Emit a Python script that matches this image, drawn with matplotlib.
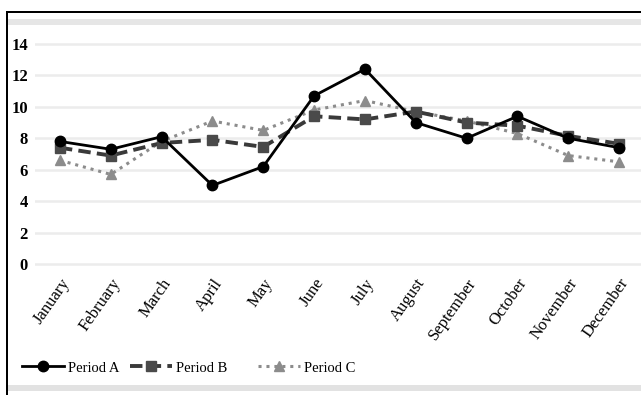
import matplotlib
matplotlib.use("Agg")
import matplotlib.pyplot as plt
from matplotlib.lines import Line2D
from matplotlib.patches import Rectangle

months = ["January", "February", "March", "April", "May", "June", "July",
          "August", "September", "October", "November", "December"]
period_a = [7.8, 7.3, 8.1, 5.0, 6.2, 10.7, 12.4, 9.0, 8.0, 9.4, 8.0, 7.4]
period_b = [7.4, 6.9, 7.7, 7.9, 7.45, 9.4, 9.2, 9.7, 9.0, 8.8, 8.15, 7.65]
period_c = [6.6, 5.7, 7.8, 9.1, 8.5, 9.8, 10.4, 9.7, 9.1, 8.3, 6.9, 6.5]
y_ticks = [0, 2, 4, 6, 8, 10, 12, 14]
series_names = ["Period A", "Period B", "Period C"]

plt.rcParams["font.family"] = ["Liberation Serif", "DejaVu Serif"]

W, H = 641, 395
fig = plt.figure(figsize=(W / 100, H / 100), dpi=100)

# outer frame: dark top and left rules, pale bands top and bottom
fig.add_artist(Rectangle((6 / W, 0), 2 / W, (H - 11) / H, transform=fig.transFigure,
                         color="black", lw=0))
fig.add_artist(Rectangle((6 / W, (H - 13) / H), 1, 2 / H, transform=fig.transFigure,
                         color="black", lw=0))
fig.add_artist(Rectangle((8 / W, (H - 25) / H), 1, 6 / H, transform=fig.transFigure,
                         color="#e6e6e6", lw=0))
fig.add_artist(Rectangle((8 / W, (H - 391) / H), 1, 6 / H, transform=fig.transFigure,
                         color="#e2e2e2", lw=0))

left, right = 35, 641
top, bottom = 35, 270
ax = fig.add_axes([left / W, 1 - bottom / H, (right - left) / W, (bottom - top) / H])

styles = [
    dict(color="black", lw=2.0, ls="-", marker="o", ms=7.5),
    dict(color="#3a3a3a", lw=2.8, ls=(0, (3.2, 1.6)), marker="s", ms=7.5,
         mfc="#4a4a4a", mec="#4a4a4a"),
    dict(color="#8c8c8c", lw=2.2, ls=(0, (1, 1.6)), marker="^", ms=7.5),
]

x = list(range(len(months)))
ax.plot(x, period_c, zorder=2, **styles[2])
ax.plot(x, period_b, zorder=3, **styles[1])
ax.plot(x, period_a, zorder=4, **styles[0])

ax.set_xlim(-0.49, 11.43)
ax.set_ylim(-0.38, 14.57)
ax.set_yticks(y_ticks)
ax.set_yticklabels([str(v) for v in y_ticks], fontsize=12, fontweight="bold")
ax.set_xticks(x)
ax.set_xticklabels(months, fontsize=12, rotation=55, ha="right",
                   rotation_mode="anchor")
ax.tick_params(axis="both", length=0)
ax.tick_params(axis="y", pad=5)
ax.tick_params(axis="x", pad=4)
ax.grid(axis="y", color="#ececec", lw=1.8)
ax.set_axisbelow(True)
for s in ax.spines.values():
    s.set_visible(False)

# one legend entry per series, spaced along the bottom
legend_x = [22, 130, 258]
for st, name, lx in zip(styles, series_names, legend_x):
    h = Line2D([], [], **st)
    fig.legend([h], [name], loc="center left",
               bbox_to_anchor=(lx / W, 1 - 368 / H), frameon=False,
               fontsize=10.5, handlelength=2.9, handletextpad=0.25,
               borderaxespad=0, borderpad=0)

fig.savefig("out.png", dpi=100, facecolor="white")
